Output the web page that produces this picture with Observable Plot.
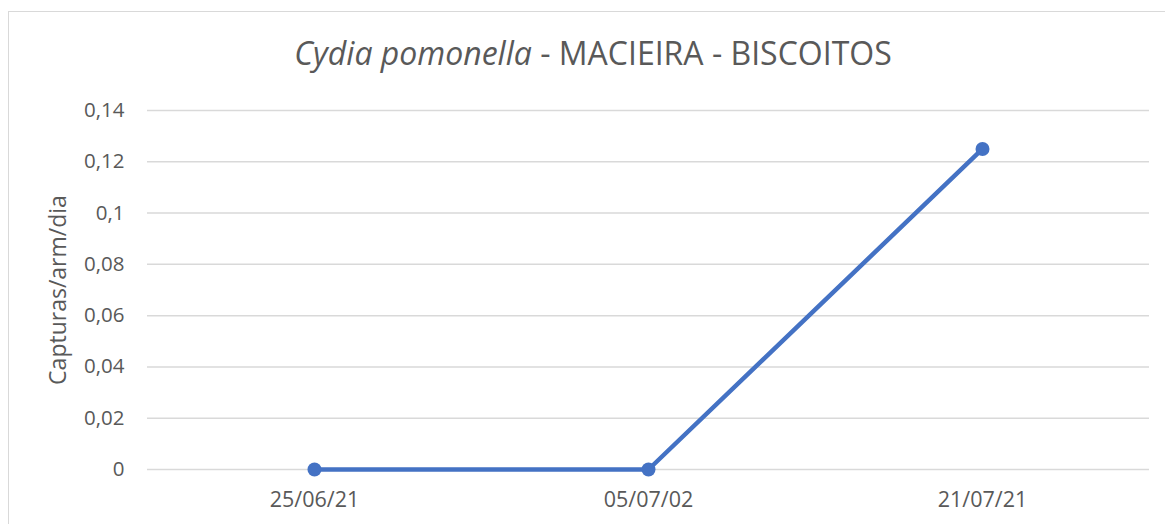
<!DOCTYPE html>
<html>
<head>
<meta charset="utf-8">
<script src="https://cdn.jsdelivr.net/npm/d3@7"></script>
<script src="https://cdn.jsdelivr.net/npm/@observablehq/plot@0.6"></script>
<style>
  html, body { margin: 0; padding: 0; background: #fff; }
  body { width: 1165px; height: 524px; position: relative; overflow: hidden; font-family: "Open Sans", sans-serif; }
  #frame { position: absolute; left: 8px; top: 11px; width: 1200px; height: 560px; border: 1px solid #d9d9d9; box-sizing: border-box; }
  #title { position: absolute; left: 0; width: 1186px; top: 34px; text-align: center; font-size: 32px; color: #595959; line-height: 1.2; white-space: nowrap; }
  #chart { position: absolute; left: 0; top: 86px; }
</style>
</head>
<body>
<div id="frame"></div>
<div id="title"><i>Cydia pomonella</i> - MACIEIRA - BISCOITOS</div>
<div id="chart"></div>
<script>
const dates = ["25/06/21", "05/07/02", "21/07/21"];
const captures = [0, 0, 0.125];
const yTicks = [0, 0.02, 0.04, 0.06, 0.08, 0.1, 0.12, 0.14];
const yLabel = "Capturas/arm/dia";

const data = dates.map((d, i) => ({date: d, value: captures[i]}));
const fmt = v => String(+v.toFixed(2)).replace(".", ",");

const chart = Plot.plot({
  width: 1165,
  height: 438,
  marginLeft: 147,
  marginRight: 16,
  marginTop: 24,
  marginBottom: 55,
  style: {fontFamily: "'Open Sans', sans-serif", fontSize: "20px", color: "#595959", background: "transparent"},
  x: {type: "point", domain: dates, padding: 0.5},
  y: {domain: [0, 0.14]},
  marks: [
    Plot.gridY(yTicks, {stroke: "#d9d9d9", strokeOpacity: 1, strokeWidth: 1.5}),
    Plot.axisY(yTicks, {tickSize: 0, tickPadding: 23, tickFormat: fmt, fill: "#595959", fontSize: 20.5,
      label: null}),
    Plot.axisY({anchor: "left", ticks: [], tickSize: 0, label: yLabel, labelAnchor: "center", labelArrow: "none", labelOffset: 98, fill: "#595959", fontSize: 23}),
    Plot.axisX(dates, {tickSize: 0, tickPadding: 22, fill: "#595959", fontSize: 21.5, label: null}),
    Plot.line(data, {x: "date", y: "value", stroke: "#4472C4", strokeWidth: 4.5}),
    Plot.dot(data, {x: "date", y: "value", fill: "#4472C4", r: 7})
  ]
});
document.getElementById("chart").appendChild(chart);
</script>
</body>
</html>
